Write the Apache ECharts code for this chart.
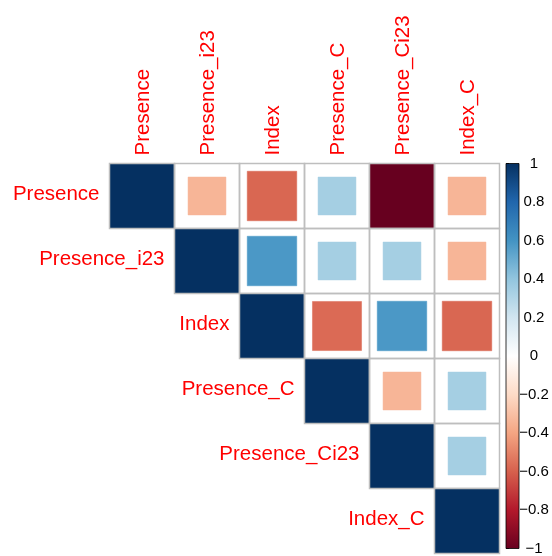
<!DOCTYPE html>
<html>
<head>
<meta charset="utf-8">
<script src="https://cdn.jsdelivr.net/npm/echarts@6/dist/echarts.min.js"></script>
<style>html,body{margin:0;padding:0;background:#fff;}#c{width:552px;height:556px;}</style>
</head>
<body>
<div id="c"></div>
<script>
// Variables (rows and columns)
const vars = ['Presence', 'Presence_i23', 'Index', 'Presence_C', 'Presence_Ci23', 'Index_C'];
// Upper-triangle correlations, each row starting at its diagonal
const rowPresence     = [1, -0.34, -0.58, 0.34, -1, -0.34];
const rowPresence_i23 = [1, 0.58, 0.34, 0.34, -0.34];
const rowIndex        = [1, -0.57, 0.58, -0.58];
const rowPresence_C   = [1, -0.34, 0.34];
const rowPresence_Ci23 = [1, 0.34];
const rowIndex_C      = [1];
const corrRows = [rowPresence, rowPresence_i23, rowIndex, rowPresence_C, rowPresence_Ci23, rowIndex_C];
// Colour-bar ticks
const legendTicks = [-1, -0.8, -0.6, -0.4, -0.2, 0, 0.2, 0.4, 0.6, 0.8, 1];
// RdBu palette (from -1 to 1)
const palette = ['#67001F', '#B2182B', '#D6604D', '#F4A582', '#FDDBC7', '#FFFFFF', '#D1E5F0', '#92C5DE', '#4393C3', '#2166AC', '#053061'];

const cells = [];
corrRows.forEach((row, r) => {
  row.forEach((v, k) => { cells.push([r + k, r, v]); });
});

const FONT = 'Liberation Sans, Arial, Helvetica, sans-serif';
const chart = echarts.init(document.getElementById('c'), null, {renderer: 'canvas'});

chart.setOption({
  backgroundColor: '#ffffff',
  animation: false,
  grid: [
    {left: 109.5, top: 163.5, width: 390, height: 390},
    {left: 506, top: 163.5, width: 13, height: 390}
  ],
  xAxis: [
    {gridIndex: 0, type: 'category', data: vars, position: 'top', show: false},
    {gridIndex: 1, type: 'value', min: 0, max: 1, show: false}
  ],
  yAxis: [
    {gridIndex: 0, type: 'category', data: vars, inverse: true, show: false},
    {
      gridIndex: 1, type: 'value', min: -1, max: 1, interval: 0.2, position: 'right',
      axisLine: {show: false},
      axisTick: {show: true, length: 3, lineStyle: {color: '#000', width: 1}},
      splitLine: {show: false},
      axisLabel: {
        margin: 15, align: 'center', color: '#000', fontSize: 15, fontFamily: FONT,
        formatter: v => String(parseFloat(v.toFixed(1))).replace('-', '\u2212')
      }
    }
  ],
  visualMap: {
    show: false, type: 'continuous', min: -1, max: 1, dimension: 2, seriesIndex: 0,
    inRange: {color: palette}
  },
  series: [
    {
      type: 'custom', xAxisIndex: 0, yAxisIndex: 0, data: cells,
      encode: {x: 0, y: 1},
      renderItem: function (params, api) {
        const c = api.coord([api.value(0), api.value(1)]);
        const s = api.size([1, 1]);
        const v = api.value(2);
        const side = s[0] * Math.sqrt(Math.abs(v));
        const color = api.visual('color');
        return {
          type: 'group',
          children: [
            {type: 'rect', shape: {x: c[0] - side / 2, y: c[1] - side / 2, width: side, height: side},
             style: {fill: color, stroke: color, lineWidth: 0.5}},
            {type: 'rect', shape: {x: c[0] - s[0] / 2, y: c[1] - s[1] / 2, width: s[0], height: s[1]},
             style: {fill: 'none', stroke: '#BEBEBE', lineWidth: 1.5}}
          ]
        };
      }
    },
    {
      type: 'custom', xAxisIndex: 0, yAxisIndex: 0,
      data: vars.map((name, i) => [i, i]),
      encode: {x: 0, y: 1},
      renderItem: function (params, api) {
        const i = api.value(0);
        const c = api.coord([i, i]);
        const s = api.size([1, 1]);
        const top = api.coord([i, 0]);
        return {
          type: 'group',
          children: [
            {
              type: 'text',
              style: {
                x: c[0] - s[0] / 2 - 10, y: c[1] - 2,
                text: vars[i], fill: '#FF0000', fontSize: 20.5, fontFamily: FONT,
                align: 'right', verticalAlign: 'middle'
              }
            },
            {
              type: 'text',
              x: top[0] + 1, y: top[1] - s[1] / 2 - 8,
              rotation: Math.PI / 2,
              style: {
                x: 0, y: 0,
                text: vars[i], fill: '#FF0000', fontSize: 20.5, fontFamily: FONT,
                align: 'left', verticalAlign: 'middle'
              }
            }
          ]
        };
      }
    },
    {
      type: 'custom', xAxisIndex: 1, yAxisIndex: 1,
      data: [[0, 1, 1, -1]],
      encode: {x: 0, y: 1},
      renderItem: function (params, api) {
        const p0 = api.coord([api.value(0), api.value(1)]);
        const p1 = api.coord([api.value(2), api.value(3)]);
        const stops = palette.map((col, k) => ({offset: 1 - k / (palette.length - 1), color: col}));
        stops.reverse();
        return {
          type: 'rect',
          shape: {x: p0[0], y: p0[1], width: p1[0] - p0[0], height: p1[1] - p0[1]},
          style: {
            fill: new echarts.graphic.LinearGradient(0, 0, 0, 1, stops),
            stroke: '#000', lineWidth: 0.8
          }
        };
      }
    }
  ]
});
</script>
</body>
</html>
